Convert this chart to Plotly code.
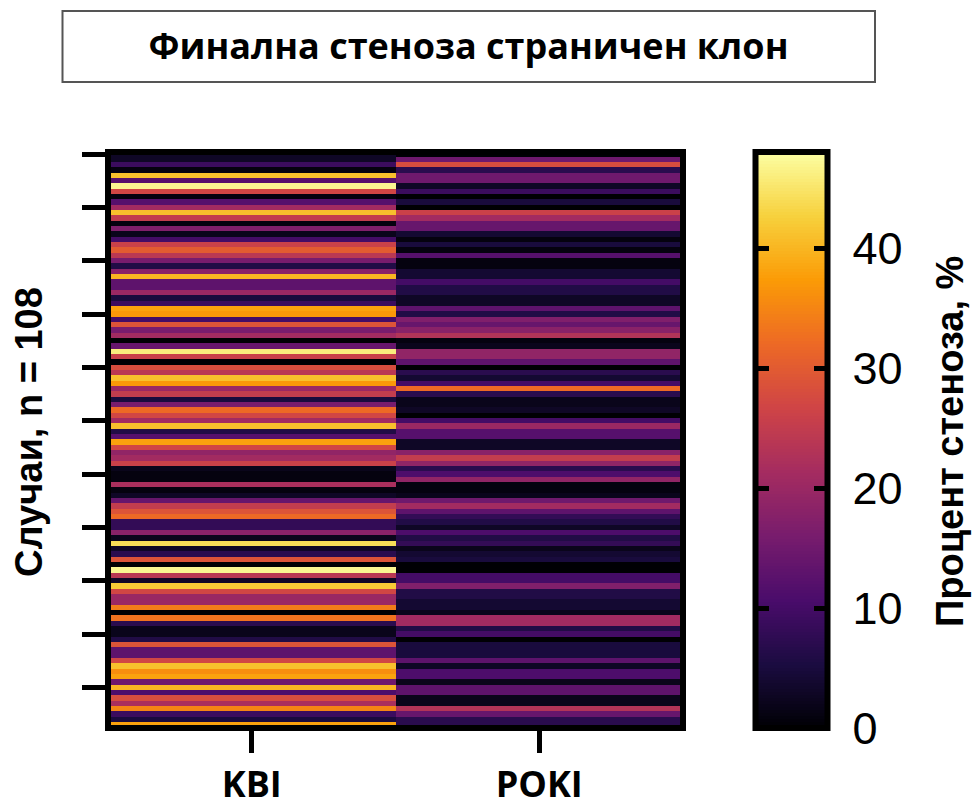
import plotly.graph_objects as go

title_text = "Финална стеноза страничен клон"
y_title = "Случаи, n = 108"
scale_title = "Процент стеноза, %"
groups = ["KBI", "POKI"]

kbi = [3,
       3,9,1,41,12,47,27,1,12,21,41,25,1,17,2,10,26,30,24,16,6,18,40,13,13,20,
       5,9,38,37,10,29,16,21,0,14,46,26,0,28,24,41,37,20,25,5,16,32,27,21,41,6,12,
       38,27,19,21,26,2,1,1,22,1,3,14,25,29,32,8,8,18,2,44,3,7,29,0,47,24,3,
       42,27,20,20,34,0,33,7,2,2,6,29,13,13,27,41,36,38,15,40,11,28,22,35,9,5,38]
poki = [0,
        15,28,7,15,15,3,9,0,5,0,26,21,14,14,4,1,5,1,12,1,1,4,4,10,6,6,
        3,3,13,6,17,14,18,23,1,2,19,19,13,0,7,4,10,32,7,2,2,3,0,10,20,12,12,
        3,3,18,25,19,7,11,19,1,1,2,15,21,13,8,6,3,11,6,8,2,4,5,0,0,10,10,
        17,6,6,4,4,2,21,21,6,10,0,5,5,5,13,3,11,11,2,13,13,2,2,23,14,7,7]
case_ticks = [0, 10, 20, 30, 40, 50, 60, 70, 80, 90, 100]
scale_ticks = [0, 10, 20, 30, 40]
scale_levels = [i * 0.25 + 0.125 for i in range(192)]
zmax = 48

W, H = 974, 807
rows = list(range(len(kbi)))
fx = lambda p: p / W
fy = lambda p: 1 - p / H

fig = go.Figure()
fig.add_trace(go.Heatmap(
    z=[[a, b] for a, b in zip(kbi, poki)], x=groups, y=rows,
    colorscale="Inferno", zmin=0, zmax=zmax, showscale=False,
    xaxis="x", yaxis="y"))
fig.add_trace(go.Heatmap(
    z=[[v] for v in scale_levels], x=["scale"], y=scale_levels,
    colorscale="Inferno", zmin=0, zmax=zmax, showscale=False,
    xaxis="x2", yaxis="y2"))

frame = dict(type="rect", x0=0, x1=1, y0=0, y1=1,
             line=dict(color="black", width=6), layer="above")
fig.update_layout(
    width=W, height=H, autosize=False,
    margin=dict(l=0, r=0, t=0, b=0, autoexpand=False),
    paper_bgcolor="white", plot_bgcolor="white",
    font=dict(family="Liberation Sans", color="black"),
    title=dict(text="<b>" + title_text + "</b>", xref="paper", yref="paper",
               x=fx(468.5), xanchor="center", y=fy(46), yanchor="middle",
               font=dict(family="Open Sans", size=36, color="black")),
    xaxis=dict(domain=[fx(108), fx(683)], anchor="y", type="category", automargin=False,
               range=[-0.5, 1.5], showgrid=False, zeroline=False, showline=False,
               ticks="outside", ticklen=24, tickwidth=5, tickcolor="black",
               ticklabelstandoff=1,
               tickfont=dict(family="Open Sans", size=36, weight="bold", color="black")),
    yaxis=dict(domain=[fy(728), fy(152)], anchor="x", range=[107.6, -0.4], automargin=False,
               showgrid=False, zeroline=False, showline=False,
               tickmode="array", tickvals=case_ticks, showticklabels=False,
               ticks="outside", ticklen=25, tickwidth=5, tickcolor="black"),
    xaxis2=dict(domain=[fx(755.5), fx(827.5)], anchor="y2", type="category", automargin=False,
                showgrid=False, zeroline=False, showline=False,
                showticklabels=False, ticks=""),
    yaxis2=dict(domain=[fy(728), fy(152)], anchor="x2", side="right", range=[0, zmax], automargin=False,
                showgrid=False, zeroline=False, showline=False,
                tickmode="array", tickvals=scale_ticks, mirror="ticks",
                ticks="inside", ticklen=13.5, tickwidth=5, tickcolor="black",
                ticklabelstandoff=24,
                tickfont=dict(family="Liberation Sans", size=45, color="black")),
    annotations=[
        dict(text="<b>" + y_title + "</b>", xref="paper", yref="paper",
             x=fx(29), y=fy(432), xanchor="center", yanchor="middle", textangle=-90,
             showarrow=False, font=dict(family="Liberation Sans", size=38, color="black")),
        dict(text="<b>" + scale_title + "</b>", xref="paper", yref="paper",
             x=fx(950), y=fy(442), xanchor="center", yanchor="middle", textangle=-90,
             showarrow=False, font=dict(family="Liberation Sans", size=38, color="black")),
    ],
    shapes=[
        dict(frame, xref="x domain", yref="y domain"),
        dict(frame, xref="x2 domain", yref="y2 domain"),
        dict(type="rect", xref="paper", yref="paper",
             x0=fx(62.5), x1=fx(875), y0=fy(82), y1=fy(11),
             line=dict(color="#555555", width=2), layer="below"),
    ],
)
fig.write_html("out.html", config={"displayModeBar": False},
               post_script="document.body.style.margin='0';document.documentElement.style.overflow='hidden';")
